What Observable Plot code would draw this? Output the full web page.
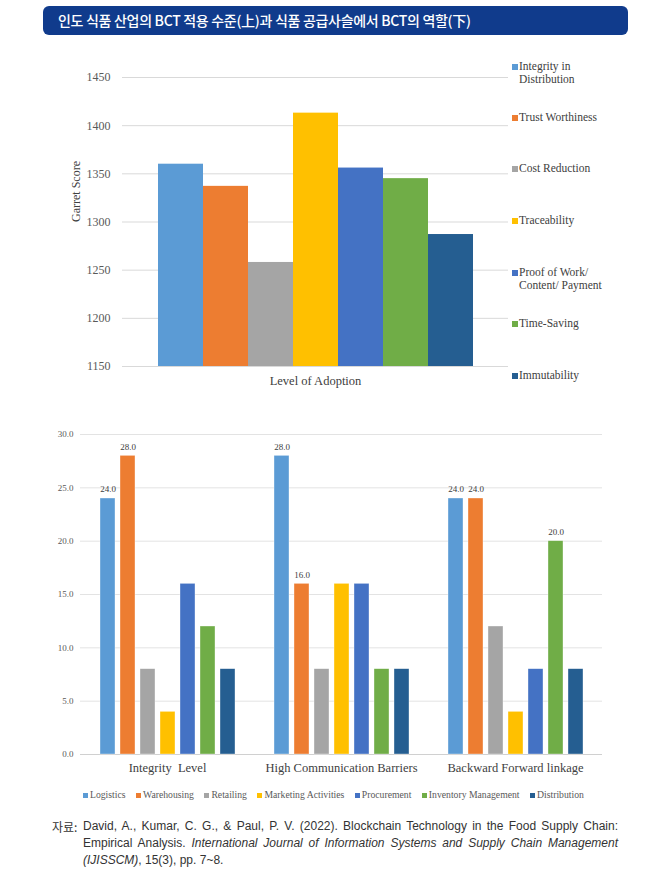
<!DOCTYPE html>
<html><head><meta charset="utf-8">
<script src="https://cdn.jsdelivr.net/npm/d3@7"></script>
<script src="https://cdn.jsdelivr.net/npm/@observablehq/plot@0.6"></script>
<style>
body{margin:0;background:#fff;width:649px;height:874px;position:relative;overflow:hidden;}
.abs{position:absolute;}
#title{left:43px;top:6px;width:585px;height:29px;background:#103b8c;border-radius:6px;color:#fff;
 font-family:"Noto Sans CJK KR";font-size:14px;font-weight:500;line-height:29px;padding-left:15px;box-sizing:border-box;letter-spacing:-0.3px;}
.leg1{font-family:"Liberation Serif";font-size:11.5px;color:#404040;line-height:13px;}
.leg1 .sw{position:absolute;left:-7px;top:3.5px;width:6px;height:6px;}
#leg2{left:83px;top:789px;font-family:"Liberation Serif";font-size:9.7px;color:#595959;white-space:nowrap;display:flex;gap:10.5px;}
#leg2 span.sw{display:inline-block;width:5px;height:5px;margin-right:2px;vertical-align:0px;}
#cap{left:52px;top:818px;width:566px;font-family:"Liberation Sans","Noto Sans CJK KR";font-size:12px;color:#333;line-height:17px;display:flex;}
#cap .lab{flex:0 0 31px;font-family:"Noto Sans CJK KR";}
#cap .txt{flex:1;}
#cap .ln{white-space:nowrap;}
#cap .j{text-align:justify;text-align-last:justify;}
</style></head>
<body>
<div id="title" class="abs">인도 식품 산업의 BCT 적용 수준(上)과 식품 공급사슬에서 BCT의 역할(下)</div>
<div id="topchart" class="abs" style="left:0;top:40px;"></div>
<div id="leg1"></div>
<div id="bottomchart" class="abs" style="left:0;top:415px;"></div>
<div id="leg2" class="abs"></div>
<div id="cap" class="abs"><div class="lab">자료:</div><div class="txt">
<div class="ln j">David, A., Kumar, C. G., &amp; Paul, P. V. (2022). Blockchain Technology in the Food Supply Chain:</div>
<div class="ln j">Empirical Analysis. <i>International Journal of Information Systems and Supply Chain Management</i></div>
<div class="ln"><i>(IJISSCM)</i>, 15(3), pp. 7~8.</div>
</div></div>
<script>
// ---- Top chart data ----
const topSeries = ["Integrity in Distribution","Trust Worthiness","Cost Reduction","Traceability","Proof of Work/ Content/ Payment","Time-Saving","Immutability"];
const topLegendLines = [["Integrity in","Distribution"],["Trust Worthiness"],["Cost Reduction"],["Traceability"],["Proof of Work/","Content/ Payment"],["Time-Saving"],["Immutability"]];
const topValues = [1360,1337,1258,1413,1356,1345,1287];
const topColors = ["#5b9bd5","#ed7d31","#a5a5a5","#ffc000","#4472c4","#70ad47","#255e91"];
const topTicks = [1150,1200,1250,1300,1350,1400,1450];
const topCategory = "Level of Adoption";
const topYLabel = "Garret Score";

// ---- Bottom chart data ----
const groups = ["Integrity  Level","High Communication Barriers","Backward Forward linkage"];
const bottomSeries = ["Logistics","Warehousing","Retailing","Marketing Activities","Procurement","Inventory Management","Distribution"];
const logistics    = [24,28,24];
const warehousing  = [28,16,24];
const retailing    = [8,8,12];
const marketing    = [4,16,4];
const procurement  = [16,16,8];
const inventory    = [12,8,20];
const distribution = [8,8,8];
const bottomColors = ["#5b9bd5","#ed7d31","#a5a5a5","#ffc000","#4472c4","#70ad47","#255e91"];
const bottomTicks = [0,5,10,15,20,25,30];
// bars that carry a value label: [group index, series index]
const labeled = [[0,0],[0,1],[1,0],[1,1],[2,0],[2,1],[2,5]];

(function(){
// ---- Top chart ----
const topData = topSeries.map((s,i)=>({series:s, value:topValues[i]}));
const chart1 = Plot.plot({
  width:649, height:360, marginLeft:122, marginRight:141, marginTop:37, marginBottom:34,
  style:{fontFamily:"Liberation Serif", fontSize:"12px", color:"#595959", background:"transparent"},
  x:{domain:topSeries, paddingInner:0, paddingOuter:0.73, axis:null},
  y:{domain:[topTicks[0], topTicks[topTicks.length-1]], ticks:topTicks},
  color:{domain:topSeries, range:topColors},
  marks:[
    Plot.gridY(topTicks,{stroke:"#d9d9d9", strokeOpacity:1}),
    Plot.axisY(topTicks,{tickSize:0, tickPadding:12, tickFormat:d3.format("d"), label:null, fontSize:12, fill:"#595959"}),
    Plot.barY(topData,{x:"series", y1:()=>topTicks[0], y2:"value", fill:"series"}),
    Plot.text([topYLabel],{frameAnchor:"left", dx:-46, rotate:-90, text:d=>d, fontSize:12, fill:"#404040"}),
    Plot.text([topCategory],{frameAnchor:"bottom", dy:18, text:d=>d, fontSize:12.5, fill:"#404040"})
  ]
});
document.getElementById("topchart").appendChild(chart1);

// top legend (HTML)
const legTops = [60,111,162,214,266,317,369];
const leg1 = document.getElementById("leg1");
topLegendLines.forEach((lines,i)=>{
  const d = document.createElement("div");
  d.className="abs leg1";
  d.style.left="519px"; d.style.top=legTops[i]+"px";
  d.innerHTML = `<span class="sw" style="background:${topColors[i]}"></span>`+lines.join("<br>");
  leg1.appendChild(d);
});

// ---- Bottom chart ----
const cols = [logistics,warehousing,retailing,marketing,procurement,inventory,distribution];
const bottomData = [];
groups.forEach((g,gi)=>bottomSeries.forEach((s,si)=>bottomData.push({group:g, series:s, value:cols[si][gi],
  label: labeled.some(([a,b])=>a===gi&&b===si)})));
const chart2 = Plot.plot({
  width:649, height:370, marginLeft:79, marginRight:47, marginTop:19, marginBottom:31,
  style:{fontFamily:"Liberation Serif", fontSize:"9px", color:"#595959", background:"transparent"},
  fx:{domain:groups, padding:0, label:null},
  x:{domain:bottomSeries, paddingInner:0.25, paddingOuter:0.88, axis:null},
  y:{domain:[0,30], ticks:bottomTicks},
  color:{domain:bottomSeries, range:bottomColors},
  marks:[
    Plot.gridY(bottomTicks,{stroke:"#e3e3e3", strokeOpacity:1}),
    Plot.ruleY([0],{stroke:"#d0d0d0"}),
    Plot.axisY(bottomTicks,{tickSize:0, tickPadding:7, tickFormat:d3.format(".1f"), label:null, fontSize:9, fill:"#595959"}),
    Plot.axisFx({tickSize:0, tickPadding:9, fontSize:12.5, fill:"#404040", label:null, anchor:"bottom"}),
    Plot.barY(bottomData,{fx:"group", x:"series", y:"value", fill:"series", stroke:"#fff", strokeWidth:0.6, strokeOpacity:0.6}),
    Plot.text(bottomData.filter(d=>d.label),{fx:"group", x:"series", y:"value", text:d=>d3.format(".1f")(d.value), dy:-9, fontSize:9, fill:"#404040"})
  ]
});
document.getElementById("bottomchart").appendChild(chart2);

// bottom legend
const leg2 = document.getElementById("leg2");
bottomSeries.forEach((s,i)=>{
  const sp = document.createElement("span");
  sp.innerHTML = `<span class="sw" style="background:${bottomColors[i]}"></span>${s}`;
  leg2.appendChild(sp);
});
})();
</script>
</body></html>
